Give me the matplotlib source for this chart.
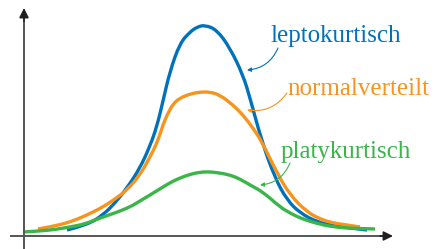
import matplotlib
matplotlib.use("Agg")
import matplotlib.pyplot as plt
from matplotlib.path import Path
from matplotlib.patches import PathPatch

# curves: x position and height above the x axis
lepto_x = [67, 87, 103, 115, 127, 140, 150, 157, 163, 170, 180, 190, 197, 205,
           217, 230, 243, 250, 262, 275, 287, 300, 317, 335, 350, 367]
lepto_y = [6, 11, 21, 33, 48, 68, 90, 110, 135, 165, 193, 204, 209, 211,
           206, 188, 161, 138, 94, 58, 36, 23, 14, 10, 8, 6]

normal_x = [38, 55, 70, 85, 103, 115, 127, 140, 150, 157, 163, 167, 173, 180, 190,
            200, 210, 220, 233, 243, 253, 262, 277, 290, 307, 320, 333, 347, 360]
normal_y = [7, 10, 14, 20, 29, 37, 46, 61, 79, 93, 111, 121, 132, 138, 142,
            144, 144, 141, 131, 121, 108, 94, 63, 41, 24, 17, 13, 11, 9]

platy_x = [23, 40, 55, 70, 85, 100, 115, 130, 140, 150, 163, 173, 185, 195, 207,
           220, 230, 240, 250, 263, 280, 290, 300, 315, 333, 355, 375]
platy_y = [4, 5, 6.5, 9, 12, 18, 23, 29, 35, 41, 49, 55, 60, 63, 64.5,
           63, 61, 57, 51, 44, 29, 23, 18, 13, 9, 7.5, 7]

labels = ["leptokurtisch", "normalverteilt", "platykurtisch"]
colors = ["#0072bc", "#f7941d", "#39b54a"]
label_pos = [(270, 194), (287, 141), (281, 78)]
arrow_start = [(278, 188), (287, 143), (290, 73)]
arrow_tip = [(247, 166), (247, 126), (260, 51)]


def smooth_path(xs, ys):
    # quadratic bezier through the midpoints, read points as control points
    pts = list(zip(xs, ys))
    verts = [pts[0]]
    codes = [Path.MOVETO]
    for i in range(1, len(pts) - 1):
        mid = ((pts[i][0] + pts[i + 1][0]) / 2, (pts[i][1] + pts[i + 1][1]) / 2)
        if i == len(pts) - 2:
            mid = pts[-1]
        verts += [pts[i], mid]
        codes += [Path.CURVE3, Path.CURVE3]
    return Path(verts, codes)


fig = plt.figure(figsize=(4.34, 2.49), dpi=100)
ax = fig.add_axes([0, 0, 1, 1])
ax.set_xlim(0, 434)
ax.set_ylim(-13, 236)
ax.axis("off")

# axes with arrow heads
ax.plot([24, 24], [-13, 222], color="#555555", lw=1.4, solid_capstyle="butt")
ax.plot([10, 386], [0, 0], color="#555555", lw=1.4, solid_capstyle="butt")
ax.annotate("", xy=(24, 228), xytext=(24, 215),
            arrowprops=dict(arrowstyle="-|>", color="#231f20", lw=1.2,
                            mutation_scale=14, shrinkA=0, shrinkB=0))
ax.annotate("", xy=(393, 0), xytext=(380, 0),
            arrowprops=dict(arrowstyle="-|>", color="#231f20", lw=1.2,
                            mutation_scale=14, shrinkA=0, shrinkB=0))

for xs, ys, c in zip([lepto_x, normal_x, platy_x], [lepto_y, normal_y, platy_y], colors):
    ax.add_patch(PathPatch(smooth_path(xs, ys), fill=False, edgecolor=c, lw=2.4,
                           joinstyle="round", capstyle="butt"))

for lab, c, pos, s, t in zip(labels, colors, label_pos, arrow_start, arrow_tip):
    ax.text(pos[0], pos[1], lab, color=c, fontsize=18, family="Liberation Serif",
            va="baseline", ha="left")
    ax.annotate("", xy=t, xytext=s,
                arrowprops=dict(arrowstyle="-|>", color=c, lw=0.8, mutation_scale=6,
                                connectionstyle="arc3,rad=-0.3", shrinkA=0, shrinkB=0))

fig.savefig("out.png", dpi=100)
